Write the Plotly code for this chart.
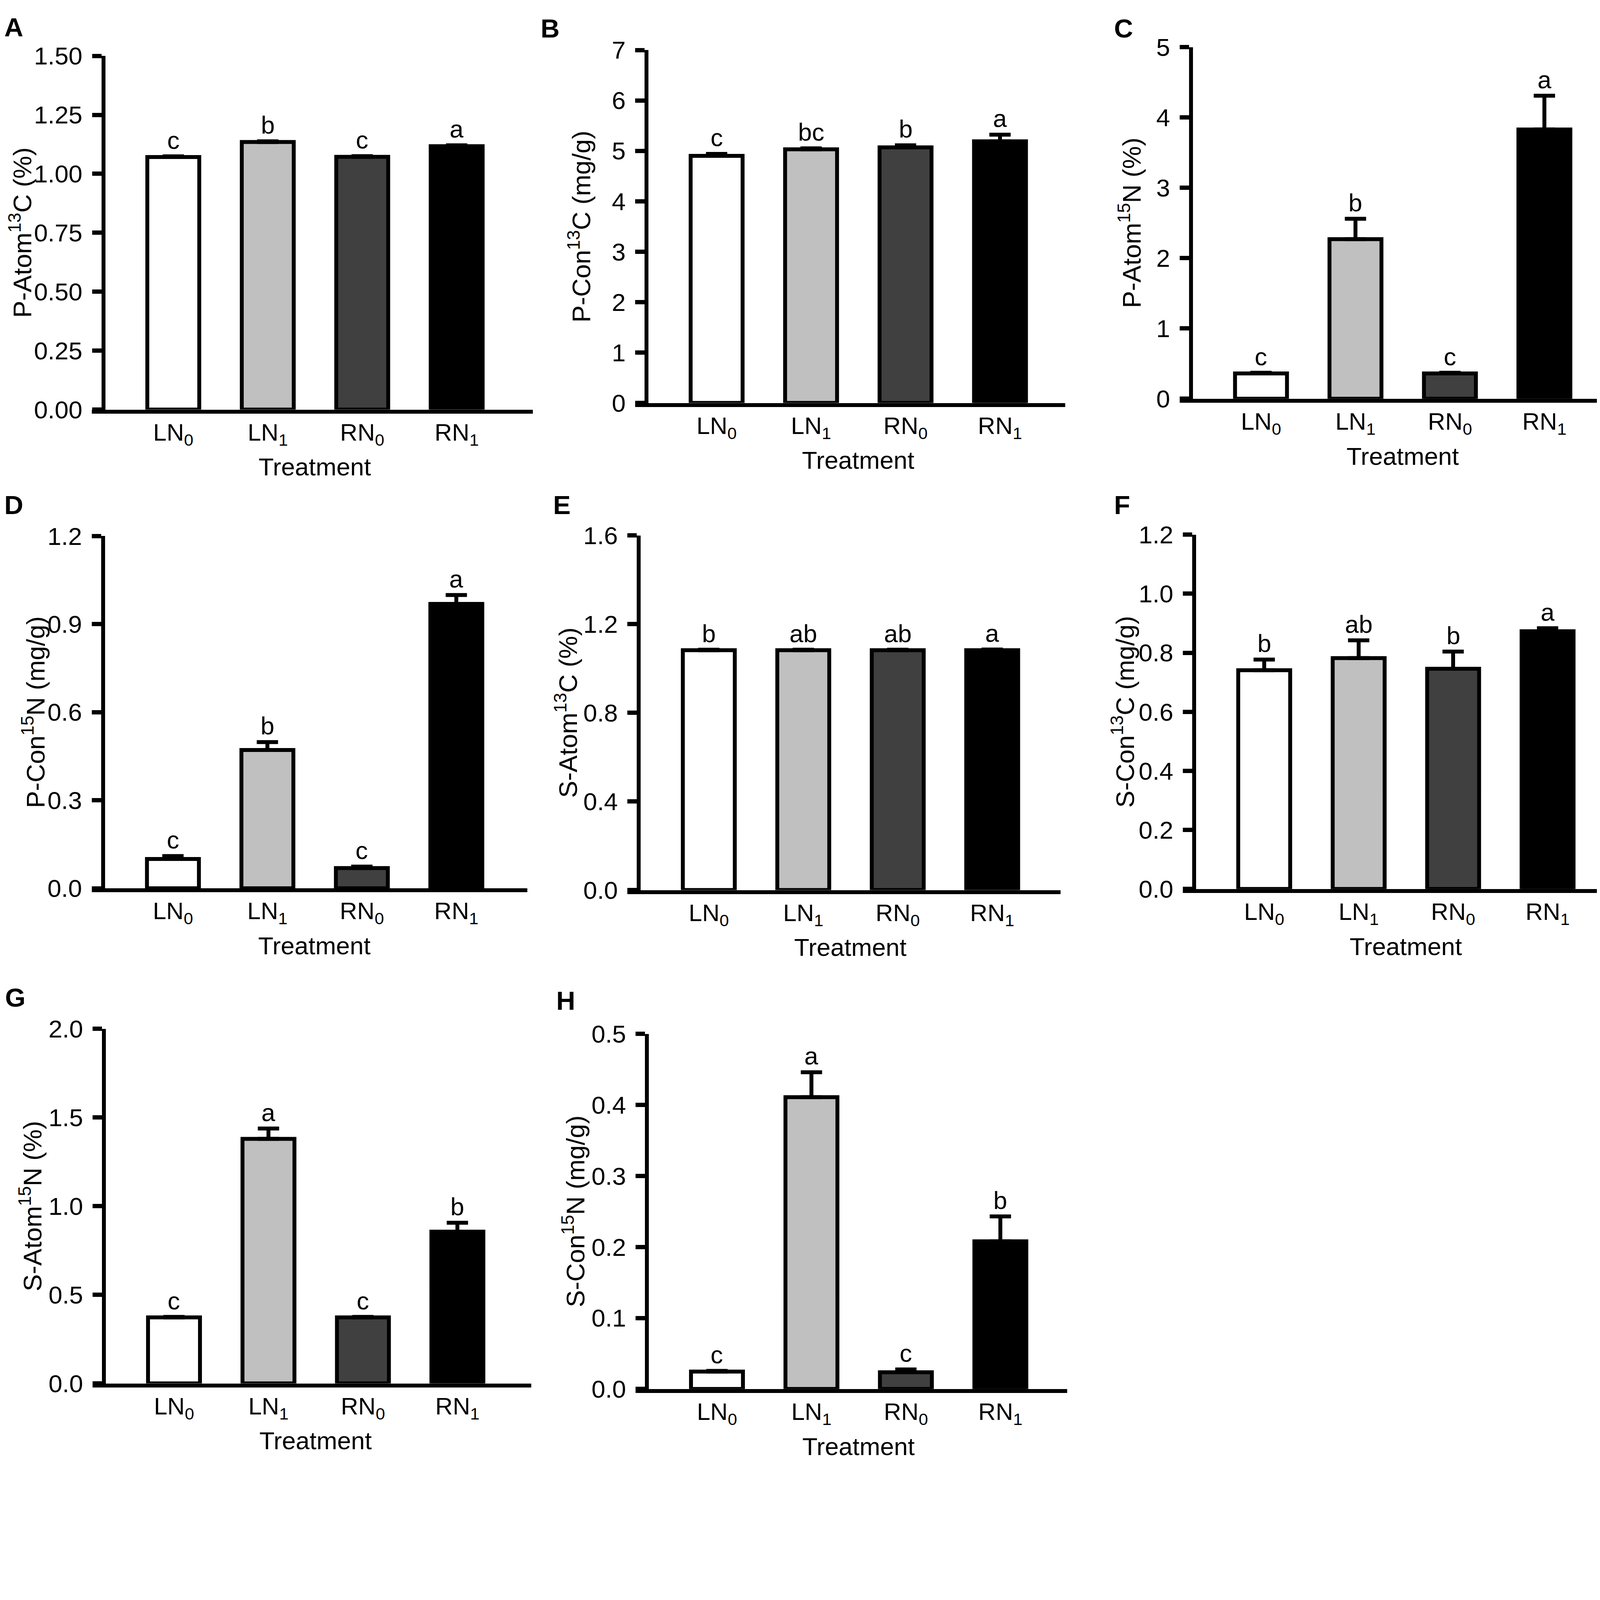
import plotly.graph_objects as go

# positions below are measured in reference pixels (4550 x 4141);
# the page shows CSS pixels at about 1.1 device pixels each, after the 8 px body margin
REF_W, REF_H = 4550, 4141
DPR = 1.1
MARGIN = 8
W, H = round(REF_W / DPR), round(REF_H / DPR)
FONT = "Liberation Sans, Arial, sans-serif"


def px(v):
    return v / DPR


def fx(x):
    return (x / DPR - MARGIN) / W


def fy(y):
    return 1 - (y / DPR - MARGIN) / H


treatments = ["LN<sub>0</sub>", "LN<sub>1</sub>", "RN<sub>0</sub>", "RN<sub>1</sub>"]
bar_colors = ["#ffffff", "#c0c0c0", "#404040", "#000000"]

# values (mean, upper error, significance letter)
p_atom_13c = [1.071, 1.135, 1.072, 1.117]
p_atom_13c_err = [0.003, 0.003, 0.003, 0.004]
p_atom_13c_sig = ["c", "b", "c", "a"]

p_con_13c = [4.90, 5.03, 5.07, 5.19]
p_con_13c_err = [0.04, 0.02, 0.04, 0.13]
p_con_13c_sig = ["c", "bc", "b", "a"]

p_atom_15n = [0.36, 2.27, 0.36, 3.83]
p_atom_15n_err = [0.01, 0.29, 0.01, 0.48]
p_atom_15n_sig = ["c", "b", "c", "a"]

p_con_15n = [0.100, 0.471, 0.069, 0.969]
p_con_15n_err = [0.010, 0.027, 0.005, 0.030]
p_con_15n_sig = ["c", "b", "c", "a"]

s_atom_13c = [1.082, 1.082, 1.082, 1.082]
s_atom_13c_err = [0.002, 0.002, 0.002, 0.003]
s_atom_13c_sig = ["b", "ab", "ab", "a"]

s_con_13c = [0.741, 0.782, 0.746, 0.873]
s_con_13c_err = [0.036, 0.060, 0.058, 0.010]
s_con_13c_sig = ["b", "ab", "b", "a"]

s_atom_15n = [0.372, 1.379, 0.372, 0.856]
s_atom_15n_err = [0.003, 0.058, 0.003, 0.050]
s_atom_15n_sig = ["c", "a", "c", "b"]

s_con_15n = [0.0245, 0.411, 0.0235, 0.208]
s_con_15n_err = [0.001, 0.035, 0.004, 0.035]
s_con_15n_sig = ["c", "a", "c", "b"]

# panel: letter, y title, data, y max, tick step, tick format,
# box (y-axis x, x-axis right end, top tick y, baseline y), y-title x, letter (x, cap top)
panels = [
    ("A", "P-Atom<sup>13</sup>C (%)", p_atom_13c, p_atom_13c_err, p_atom_13c_sig,
     1.5, 0.25, ".2f", (291, 1500, 120, 1135), 58, (10, 9)),
    ("B", "P-Con<sup>13</sup>C (mg/g)", p_con_13c, p_con_13c_err, p_con_13c_sig,
     7, 1, "d", (1821, 3000, 103, 1116), 1632, (1520, 13)),
    ("C", "P-Atom<sup>15</sup>N (%)", p_atom_15n, p_atom_15n_err, p_atom_15n_sig,
     5, 1, "d", (3354, 4535, 95, 1104), 3182, (3135, 13)),
    ("D", "P-Con<sup>15</sup>N (mg/g)", p_con_15n, p_con_15n_err, p_con_15n_sig,
     1.2, 0.3, ".1f", (290, 1485, 1498, 2509), 95, (10, 1380)),
    ("E", "S-Atom<sup>13</sup>C (%)", s_atom_13c, s_atom_13c_err, s_atom_13c_sig,
     1.6, 0.4, ".1f", (1799, 2987, 1496, 2514), 1594, (1555, 1380)),
    ("F", "S-Con<sup>13</sup>C (mg/g)", s_con_13c, s_con_13c_err, s_con_13c_sig,
     1.2, 0.2, ".1f", (3363, 4540, 1494, 2511), 3163, (3135, 1380)),
    ("G", "S-Atom<sup>15</sup>N (%)", s_atom_15n, s_atom_15n_err, s_atom_15n_sig,
     2.0, 0.5, ".1f", (293, 1496, 2912, 3930), 86, (12, 2794)),
    ("H", "S-Con<sup>15</sup>N (mg/g)", s_con_15n, s_con_15n_err, s_con_15n_sig,
     0.5, 0.1, ".1f", (1822, 3005, 2927, 3946), 1616, (1564, 2803)),
]

SPACING = 266   # px between category centres
FIRST = 197     # px from y-axis to first category centre
EXT = 32        # x-axis line sticks out left of the y-axis

fig = go.Figure()
annotations = []
layout = {}
tick_font = dict(family=FONT, size=px(70), color="black")
cat_font = dict(family=FONT, size=px(68), color="black")
text_font = dict(family=FONT, size=px(70), color="black")

for i, (tag, ytitle, means, errs, sigs, ymax, dt, fmt, box, ytx, lpos) in enumerate(panels, start=1):
    ax_x, x_right, y_top, y_base = box
    lo = -(FIRST + EXT) / SPACING
    hi = lo + (x_right - ax_x + EXT) / SPACING
    xn = "x" if i == 1 else f"x{i}"
    yn = "y" if i == 1 else f"y{i}"
    xk = "xaxis" if i == 1 else f"xaxis{i}"
    yk = "yaxis" if i == 1 else f"yaxis{i}"

    fig.add_trace(go.Bar(
        x=[0, 1, 2, 3], y=means, xaxis=xn, yaxis=yn, width=0.55,
        marker=dict(color=bar_colors, line=dict(color="black", width=px(11))),
        error_y=dict(type="data", array=errs, arrayminus=[0] * 4, symmetric=False,
                     color="black", thickness=px(11), width=px(30)),
        showlegend=False,
    ))

    layout[xk] = dict(
        domain=[fx(ax_x - EXT), fx(x_right)], anchor=yn, range=[lo, hi],
        showline=True, linewidth=px(11), linecolor="black", ticks="", ticklen=0,
        tickvals=[0, 1, 2, 3], ticktext=treatments, showgrid=False, zeroline=False,
        tickfont=cat_font, ticklabelstandoff=-5,
    )
    layout[yk] = dict(
        domain=[fy(y_base), fy(y_top)], anchor="free", position=fx(ax_x),
        range=[0, ymax], tick0=0, dtick=dt, tickformat=fmt,
        showline=True, linewidth=px(11), linecolor="black",
        ticks="outside", ticklen=round(px(26)), tickwidth=px(12), tickcolor="black",
        showgrid=False, zeroline=False,
        tickfont=tick_font, ticklabelstandoff=12,
    )

    # significance letters
    for j in range(4):
        annotations.append(dict(
            x=j, y=means[j] + errs[j], xref=xn, yref=yn, text=sigs[j],
            showarrow=False, xanchor="center", yanchor="bottom", yshift=px(5),
            font=text_font,
        ))
    # x title
    annotations.append(dict(
        x=1.5, xref=xn, y=fy(y_base + 122), yref="paper", text="Treatment",
        showarrow=False, xanchor="center", yanchor="top", font=text_font,
    ))
    # y title
    annotations.append(dict(
        x=fx(ytx), y=fy((y_top + y_base) / 2), xref="paper", yref="paper",
        text=ytitle, textangle=-90, showarrow=False, xanchor="center", yanchor="middle",
        font=dict(family=FONT, size=px(72), color="black"),
    ))
    # panel letter
    annotations.append(dict(
        x=fx(lpos[0]), y=fy(lpos[1] - 16), xref="paper", yref="paper",
        text=f"<b>{tag}</b>", showarrow=False, xanchor="left", yanchor="top",
        font=dict(family=FONT, size=px(74), color="black"),
    ))

fig.update_layout(
    width=W, height=H, margin=dict(l=0, r=0, t=0, b=0),
    paper_bgcolor="white", plot_bgcolor="white",
    font=dict(family=FONT, color="black"),
    annotations=annotations, **layout,
)

fig.write_html("out.html")
